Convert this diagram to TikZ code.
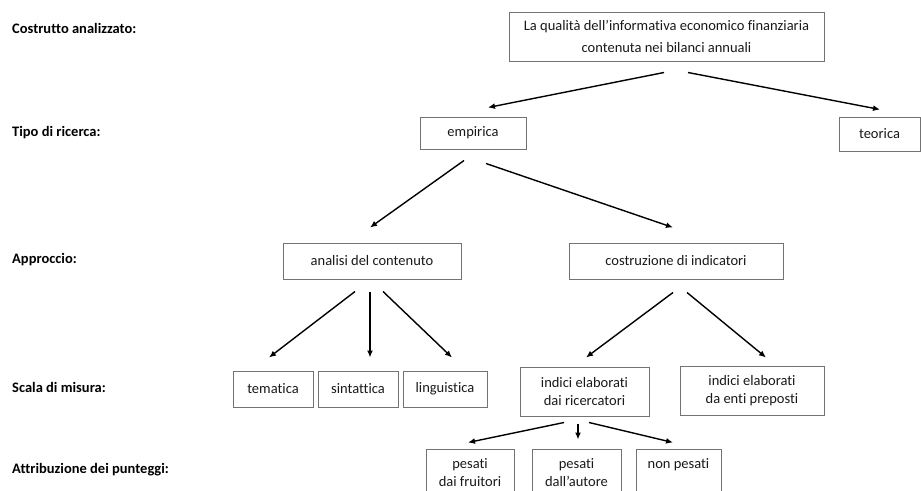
\documentclass[tikz,border=0pt]{standalone}
\usepackage{fontspec}
\setmainfont{Carlito}[Ligatures=NoCommon]
\usetikzlibrary{arrows.meta}

\begin{document}
\begin{tikzpicture}[x=1pt,y=-1pt,
    box/.style={draw=black!55,line width=1pt,inner sep=0pt,align=center,text=black!90,
      font=\fontsize{14.5}{18}\selectfont},
    lab/.style={anchor=west,inner sep=0pt,text=black,font=\fontsize{14.5}{18}\selectfont\bfseries},
    arr/.style={line width=1.4pt,-{Latex[length=7pt,width=6pt]}}]
    \useasboundingbox (0,0) rectangle (921,490);
    \clip (0,0) rectangle (921,490);
    % livelli
    \node[lab] (l1) at (12,28) {Costrutto analizzato:};
    \node[lab] (l2) at (12,133) {Tipo di ricerca:};
    \node[lab] (l3) at (12,260) {Approccio:};
    \node[lab] (l4) at (12,387) {Scala di misura:};
    \node[lab] (l5) at (12,470) {Attribuzione dei punteggi:};
    % caselle
    \node[box,minimum width=315pt,minimum height=49pt] (top) at (666.5,36.5)
        {\raisebox{-1pt}{La qualità dell’informativa economico finanziaria}\\[5pt] contenuta nei bilanci annuali};
    \node[box,minimum width=106pt,minimum height=32pt] (emp) at (473,133) {empirica};
    \node[box,minimum width=81pt,minimum height=34pt] (teo) at (879.5,134) {teorica};
    \node[box,minimum width=178pt,minimum height=36pt] (ana) at (372,261) {analisi del contenuto};
    \node[box,minimum width=214pt,minimum height=36pt] (cos) at (676,261) {costruzione di indicatori};
    \node[box,minimum width=80pt,minimum height=36pt] (tem) at (273,389) {tematica};
    \node[box,minimum width=80pt,minimum height=36pt] (sin) at (358,389) {sintattica};
    \node[box,minimum width=84pt,minimum height=36pt] (lin) at (445,389) {linguistica};
    \node[box,minimum width=129pt,minimum height=49pt] (ric) at (584.5,391.5) {indici elaborati\\dai ricercatori};
    \node[box,minimum width=144pt,minimum height=49pt] (ent) at (752,390.5) {indici elaborati\\da enti preposti};
    \node[box,minimum width=88pt,minimum height=47pt] (fru) at (470,472.5) {pesati\\dai fruitori};
    \node[box,minimum width=89pt,minimum height=47pt] (aut) at (576.5,472.5) {pesati\\dall’autore};
    \node[box,minimum width=85pt,minimum height=47pt] (non) at (678.5,472.5) {non pesati\\\mbox{}};
    % frecce
    \draw[arr] ([shift={(-2.5,11)}]top.south) -- ([shift={(15,-9)}]emp.north);
    \draw[arr] ([shift={(21.5,11)}]top.south) -- ([shift={(0.5,-7)}]teo.north);
    \draw[arr] ([shift={(-9,11)}]emp.south) -- ([shift={(-2,-15)}]ana.north);
    \draw[arr] ([shift={(13,14)}]emp.south) -- ([shift={(-3,-15)}]cos.north);
    \draw[arr] ([shift={(-17,12)}]ana.south) -- ([shift={(-4,-13)}]tem.north);
    \draw[arr] ([shift={(-2,12)}]ana.south) -- ([shift={(12,-13)}]sin.north);
    \draw[arr] ([shift={(11,12)}]ana.south) -- ([shift={(7,-13)}]lin.north);
    \draw[arr] ([shift={(-3,13)}]cos.south) -- ([shift={(1.5,-9)}]ric.north);
    \draw[arr] ([shift={(11,13)}]cos.south) -- ([shift={(14,-8)}]ent.north);
    \draw[arr] ([shift={(-20.5,6)}]ric.south) -- ([shift={(-2,-6)}]fru.north);
    \draw[arr] ([shift={(-6.5,7)}]ric.south) -- ([shift={(1.5,-9)}]aut.north);
    \draw[arr] ([shift={(4.5,6)}]ric.south) -- ([shift={(-5.5,-6)}]non.north);
\end{tikzpicture}
\end{document}
